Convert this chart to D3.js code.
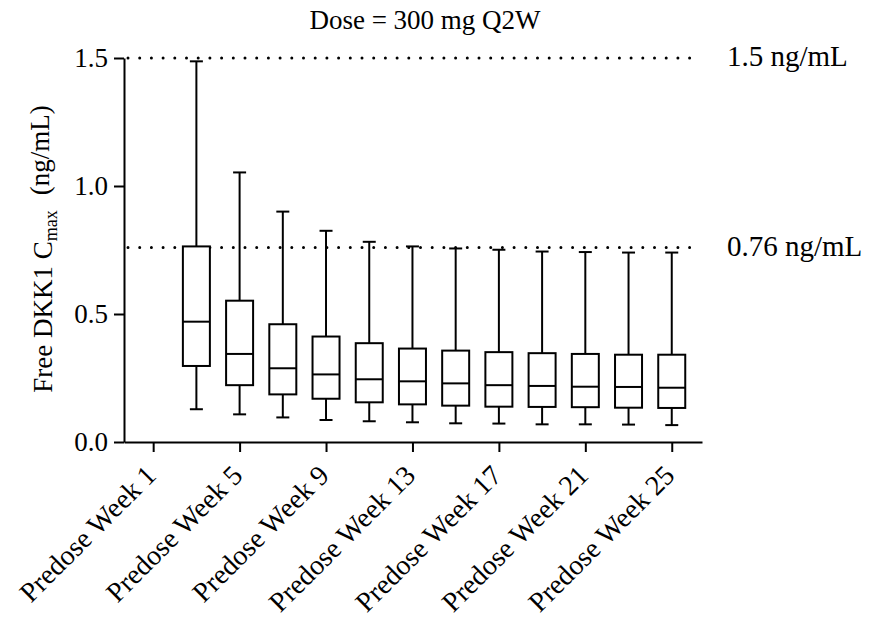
<!DOCTYPE html>
<html>
<head>
<meta charset="utf-8">
<script src="https://cdn.jsdelivr.net/npm/d3@7"></script>
<style>
  body { margin: 0; background: #fff; }
  text { font-family: "Liberation Serif", "Times New Roman", serif; fill: #000; }
</style>
</head>
<body>
<div id="plot"></div>
<script>
// Chart data
var weeks = [3, 5, 7, 9, 11, 13, 15, 17, 19, 21, 23, 25];
var whiskerHigh = [1.487, 1.053, 0.900, 0.825, 0.782, 0.764, 0.756, 0.751, 0.744, 0.742, 0.740, 0.740];
var q3 = [0.764, 0.552, 0.460, 0.412, 0.386, 0.365, 0.357, 0.351, 0.347, 0.344, 0.341, 0.341];
var medians = [0.470, 0.344, 0.288, 0.264, 0.245, 0.237, 0.229, 0.222, 0.219, 0.216, 0.215, 0.212];
var q1 = [0.297, 0.222, 0.186, 0.169, 0.155, 0.147, 0.142, 0.138, 0.137, 0.136, 0.134, 0.133];
var whiskerLow = [0.128, 0.108, 0.096, 0.086, 0.081, 0.077, 0.073, 0.072, 0.069, 0.069, 0.068, 0.066];

var tickWeeks = [1, 5, 9, 13, 17, 21, 25];
var yTicks = [0.0, 0.5, 1.0, 1.5];
var refLines = [1.5, 0.76];
var refLabels = ["1.5 ng/mL", "0.76 ng/mL"];

// SVG area
var svgWidth = 870;
var svgHeight = 625;
var margin = { top: 58, right: 168, bottom: 183, left: 124 };
var chartWidth = svgWidth - margin.left - margin.right;
var chartHeight = svgHeight - margin.top - margin.bottom;

var svg = d3.select("#plot")
  .append("svg")
  .attr("width", svgWidth)
  .attr("height", svgHeight);

var chartGroup = svg.append("g")
  .attr("transform", `translate(${margin.left}, ${margin.top})`);

// scales
var xScale = d3.scaleLinear()
  .domain([-0.35, 26.4])
  .range([0, chartWidth]);

var yScale = d3.scaleLinear()
  .domain([0, 1.5])
  .range([chartHeight, 0]);

var data = weeks.map(function(w, i) {
  return { week: w, hi: whiskerHigh[i], q3: q3[i], med: medians[i], q1: q1[i], lo: whiskerLow[i] };
});

// reference lines (dotted)
chartGroup.selectAll(".ref")
  .data(refLines)
  .enter()
  .append("line")
  .attr("class", "ref")
  .attr("x1", 4)
  .attr("x2", chartWidth - 11)
  .attr("y1", d => yScale(d))
  .attr("y2", d => yScale(d))
  .attr("stroke", "#000")
  .attr("stroke-width", 3)
  .attr("stroke-linecap", "round")
  .attr("stroke-dasharray", "0 11.7");

chartGroup.selectAll(".ref-label")
  .data(refLines)
  .enter()
  .append("text")
  .attr("class", "ref-label")
  .attr("x", chartWidth + 25)
  .attr("y", d => yScale(d))
  .attr("dy", "0.28em")
  .style("font-size", "29px")
  .text((d, i) => refLabels[i]);

// boxes
var boxW = 27;
var capW = 13;
var boxes = chartGroup.selectAll(".box")
  .data(data)
  .enter()
  .append("g")
  .attr("class", "box")
  .attr("transform", d => `translate(${xScale(d.week)}, 0)`);

boxes.append("line")
  .attr("x1", 0).attr("x2", 0)
  .attr("y1", d => yScale(d.hi))
  .attr("y2", d => yScale(d.q3))
  .attr("stroke", "#000").attr("stroke-width", 2);

boxes.append("line")
  .attr("x1", 0).attr("x2", 0)
  .attr("y1", d => yScale(d.q1))
  .attr("y2", d => yScale(d.lo))
  .attr("stroke", "#000").attr("stroke-width", 2);

boxes.append("line")
  .attr("x1", -capW / 2).attr("x2", capW / 2)
  .attr("y1", d => yScale(d.hi))
  .attr("y2", d => yScale(d.hi))
  .attr("stroke", "#000").attr("stroke-width", 2);

boxes.append("line")
  .attr("x1", -capW / 2).attr("x2", capW / 2)
  .attr("y1", d => yScale(d.lo))
  .attr("y2", d => yScale(d.lo))
  .attr("stroke", "#000").attr("stroke-width", 2);

boxes.append("rect")
  .attr("x", -boxW / 2)
  .attr("width", boxW)
  .attr("y", d => yScale(d.q3))
  .attr("height", d => yScale(d.q1) - yScale(d.q3))
  .attr("fill", "#fff")
  .attr("stroke", "#000").attr("stroke-width", 2);

boxes.append("line")
  .attr("x1", -boxW / 2).attr("x2", boxW / 2)
  .attr("y1", d => yScale(d.med))
  .attr("y2", d => yScale(d.med))
  .attr("stroke", "#000").attr("stroke-width", 2);

// axes
var leftAxis = d3.axisLeft(yScale)
  .tickValues(yTicks)
  .tickFormat(d3.format(".1f"))
  .tickSize(10)
  .tickSizeOuter(0)
  .tickPadding(6);

var bottomAxis = d3.axisBottom(xScale)
  .tickValues(tickWeeks)
  .tickFormat(d => "Predose Week " + d)
  .tickSize(10)
  .tickSizeOuter(0);

var yAxisG = chartGroup.append("g")
  .call(leftAxis);
yAxisG.select(".domain").attr("stroke-width", 2);
yAxisG.selectAll(".tick line").attr("stroke-width", 2);
yAxisG.selectAll("text")
  .style("font-size", "27px")
  .style("font-family", "Liberation Serif");

var xAxisG = chartGroup.append("g")
  .attr("transform", "translate(0, " + chartHeight + ")")
  .call(bottomAxis);
xAxisG.select(".domain").attr("stroke-width", 2);
xAxisG.selectAll(".tick line").attr("stroke-width", 2);
xAxisG.selectAll("text")
  .style("font-size", "28px")
  .style("font-family", "Liberation Serif")
  .style("text-anchor", "end")
  .attr("y", 0)
  .attr("dx", "0")
  .attr("dy", "0")
  .attr("transform", "translate(4, 35) rotate(-45)");

// title
svg.append("text")
  .attr("x", 425)
  .attr("y", 29)
  .style("text-anchor", "middle")
  .style("font-size", "27px")
  .text("Dose = 300 mg Q2W");

// y label
var yLabel = svg.append("text")
  .attr("transform", "translate(52, 249) rotate(-90)")
  .style("text-anchor", "middle")
  .style("font-size", "27px");
yLabel.append("tspan").text("Free DKK1 C");
yLabel.append("tspan").attr("dy", "0.3em").style("font-size", "18px").text("max");
yLabel.append("tspan").attr("dy", "-0.3em").attr("dx", "15").text("(ng/mL)");
</script>
</body>
</html>
